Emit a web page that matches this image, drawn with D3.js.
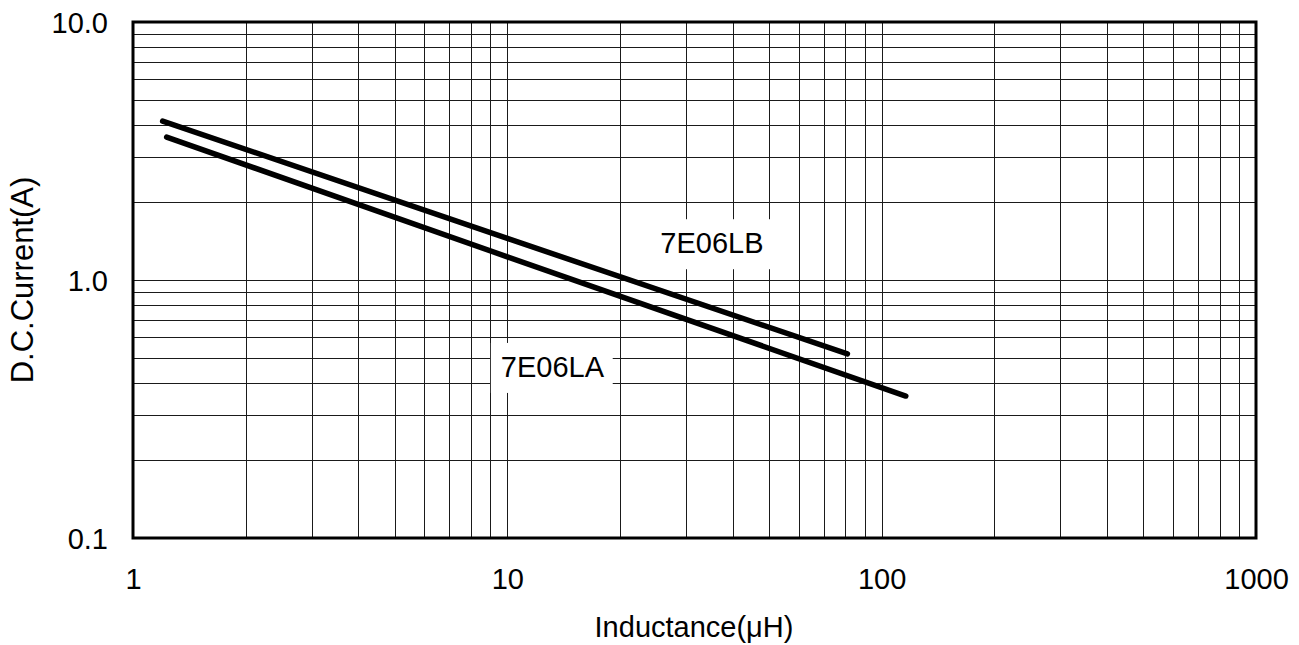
<!DOCTYPE html>
<html>
<head>
<meta charset="utf-8">
<script src="https://cdn.jsdelivr.net/npm/d3@7"></script>
<style>
  html, body { margin: 0; padding: 0; background: #fff; }
  svg { display: block; }
  text { font-family: "Liberation Sans", Arial, sans-serif; fill: #000; }
</style>
</head>
<body>
<svg id="chart" width="1299" height="645"></svg>
<script>
// ---- data ----
const xDomain = [1, 1000];
const yDomain = [0.1, 10];
const xTickLabels = ["1", "10", "100", "1000"];
const xTickValues = [1, 10, 100, 1000];
const yTickLabels = ["0.1", "1.0", "10.0"];
const yTickValues = [0.1, 1, 10];

const seriesNames = ["7E06LB", "7E06LA"];
const lbInductance = [1.2, 10, 81];
const lbCurrent = [4.13, 1.45, 0.517];
const laInductance = [1.23, 10, 116];
const laCurrent = [3.58, 1.23, 0.355];
const labelPositions = [ // label anchor (text centre, baseline) in data units
  {name: "7E06LB", x: 35.2, y: 1.27},
  {name: "7E06LA", x: 13.2, y: 0.421}
];

// ---- layout ----
const svg = d3.select("#chart");
const mLeft = 133, mRight = 1256, mTop = 22, mBottom = 538;

const x = d3.scaleLog().domain(xDomain).range([mLeft, mRight]);
const y = d3.scaleLog().domain(yDomain).range([mBottom, mTop]);

const gridColor = "#1a1a1a";

// minor + major grid lines
const xGrid = [];
for (let d = 1; d < 1000; d *= 10) for (let k = 1; k <= 9; k++) xGrid.push(d * k);
const yGrid = [];
for (let d = 0.1; d < 10 - 1e-9; d *= 10) for (let k = 1; k <= 9; k++) yGrid.push(+(d * k).toPrecision(3));

const g = svg.append("g").attr("shape-rendering", "crispEdges");
g.selectAll(".vx").data(xGrid.filter(v => v > 1)).join("line")
  .attr("x1", d => Math.round(x(d)) + 0.5).attr("x2", d => Math.round(x(d)) + 0.5)
  .attr("y1", mTop).attr("y2", mBottom)
  .attr("stroke", gridColor).attr("stroke-width", 1);
g.selectAll(".hy").data(yGrid.filter(v => v > 0.1)).join("line")
  .attr("y1", d => Math.round(y(d)) + 0.5).attr("y2", d => Math.round(y(d)) + 0.5)
  .attr("x1", mLeft).attr("x2", mRight)
  .attr("stroke", gridColor).attr("stroke-width", 1);

// label boxes (white background behind text)
const labelG = svg.append("g");
labelPositions.forEach(p => {
  const t = labelG.append("text")
    .attr("x", x(p.x)).attr("y", y(p.y))
    .attr("text-anchor", "middle")
    .attr("font-size", 29)
    .text(p.name);
  const bb = t.node().getBBox();
  labelG.insert("rect", "text")
    .attr("x", bb.x - 10).attr("y", bb.y - 8)
    .attr("width", bb.width + 18).attr("height", bb.height + 18)
    .attr("fill", "#fff");
});

// frame
svg.append("rect")
  .attr("x", mLeft).attr("y", mTop)
  .attr("width", mRight - mLeft).attr("height", mBottom - mTop)
  .attr("fill", "none").attr("stroke", "#000").attr("stroke-width", 3);

// series lines
const line = d3.line().x(d => x(d[0])).y(d => y(d[1]));
const series = [
  d3.zip(lbInductance, lbCurrent),
  d3.zip(laInductance, laCurrent)
];
svg.selectAll(".series").data(series).join("path")
  .attr("d", line)
  .attr("fill", "none").attr("stroke", "#000")
  .attr("stroke-width", 5.5).attr("stroke-linecap", "round");

// axes (labels only)
const xAxis = d3.axisBottom(x).tickValues(xTickValues)
  .tickFormat((d, i) => xTickLabels[i]).tickSize(0).tickPadding(0);
const xa = svg.append("g").attr("transform", `translate(0,${mBottom})`).call(xAxis);
xa.select(".domain").remove();
xa.selectAll("text").attr("font-size", 29).attr("dy", null).attr("y", 51)
  .style("font-family", '"Liberation Sans", Arial, sans-serif');

const yAxis = d3.axisLeft(y).tickValues(yTickValues)
  .tickFormat((d, i) => yTickLabels[i]).tickSize(0).tickPadding(0);
const ya = svg.append("g").attr("transform", `translate(${mLeft},0)`).call(yAxis);
ya.select(".domain").remove();
ya.selectAll("text").attr("font-size", 29).attr("x", -25).attr("dy", "0.35em")
  .style("font-family", '"Liberation Sans", Arial, sans-serif');

// axis titles
svg.append("text")
  .attr("x", 694).attr("y", 637)
  .attr("text-anchor", "middle").attr("font-size", 29)
  .text("Inductance(μH)");
svg.append("text")
  .attr("transform", `translate(33,${(mTop + mBottom) / 2}) rotate(-90)`)
  .attr("text-anchor", "middle").attr("font-size", 31)
  .text("D.C.Current(A)");
</script>
</body>
</html>
